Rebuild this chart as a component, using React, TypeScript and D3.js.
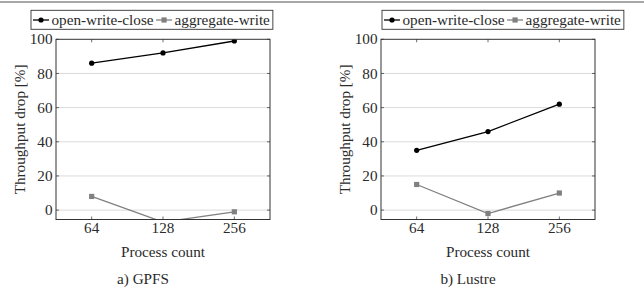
import React, { useEffect, useRef } from 'react';
import * as d3 from 'd3';

const processCounts = ['64', '128', '256'];
const yTicks = [0, 20, 40, 60, 80, 100];

const gpfsOpenWriteClose = [86, 92, 99];
const gpfsAggregateWrite = [8, -7, -1];
const lustreOpenWriteClose = [35, 46, 62];
const lustreAggregateWrite = [15, -2, 10];

const seriesNames = ['open-write-close', 'aggregate-write'];
const seriesColors = ['#000000', '#808080'];

const panels = [
  { id: 'gpfs', caption: 'a) GPFS', owc: gpfsOpenWriteClose, agg: gpfsAggregateWrite, left: 56, legendLeft: 31 },
  { id: 'lustre', caption: 'b) Lustre', owc: lustreOpenWriteClose, agg: lustreAggregateWrite, left: 381, legendLeft: 382 },
];

const FONT = "'Liberation Serif', serif";
const FS = 15.2;

function App() {
  const svgRef = useRef<SVGSVGElement>(null);

  useEffect(() => {
    const svg = d3.select(svgRef.current);
    svg.selectAll('*').remove();

    // top rule
    svg.append('line')
      .attr('x1', 0).attr('x2', 644).attr('y1', 2).attr('y2', 2)
      .attr('stroke', '#8a8a8a').attr('stroke-width', 1.5);

    const plotW = 214;
    const top = 39.3;
    const bottom = 219.5;

    panels.forEach(p => {
      const x = d3.scalePoint().domain(processCounts).range([p.left + plotW / 6, p.left + plotW * 5 / 6]);
      const y = d3.scaleLinear().domain([-5.5, 100]).range([bottom, top]);
      const g = svg.append('g').style('font-family', FONT).style('font-size', FS + 'px').attr('fill', '#2a2a2a');

      // clip
      const clipId = 'clip-' + p.id;
      svg.append('defs').append('clipPath').attr('id', clipId)
        .append('rect').attr('x', p.left).attr('y', top).attr('width', plotW).attr('height', bottom - top);

      // grid
      g.selectAll('.grid').data(yTicks.filter(t => t < 100)).enter().append('line')
        .attr('x1', p.left).attr('x2', p.left + plotW)
        .attr('y1', d => y(d)).attr('y2', d => y(d))
        .attr('stroke', '#d0d0d0').attr('stroke-width', 0.8);

      // ticks inside
      g.selectAll('.yt').data(yTicks).enter().append('path')
        .attr('d', d => `M${p.left},${y(d)}h3M${p.left + plotW},${y(d)}h-3`)
        .attr('stroke', '#444').attr('stroke-width', 0.8);
      g.selectAll('.xt').data(processCounts).enter().append('path')
        .attr('d', d => `M${x(d)},${top}v3M${x(d)},${bottom}v-3`)
        .attr('stroke', '#444').attr('stroke-width', 0.8);

      // series
      const data = [p.owc, p.agg];
      const line = d3.line<number>().x((_, i) => x(processCounts[i]) as number).y(d => y(d));
      const plot = g.append('g').attr('clip-path', `url(#${clipId})`);
      data.forEach((vals, si) => {
        plot.append('path').attr('d', line(vals)).attr('fill', 'none')
          .attr('stroke', seriesColors[si]).attr('stroke-width', 1.3);
        vals.forEach((v, i) => {
          const cx = x(processCounts[i]) as number;
          if (si === 0) {
            plot.append('circle').attr('cx', cx).attr('cy', y(v)).attr('r', 2.6).attr('fill', seriesColors[si]);
          } else {
            plot.append('rect').attr('x', cx - 2.6).attr('y', y(v) - 2.6).attr('width', 5.2).attr('height', 5.2)
              .attr('fill', seriesColors[si]);
          }
        });
      });

      // frame
      g.append('rect').attr('x', p.left).attr('y', top).attr('width', plotW).attr('height', bottom - top)
        .attr('fill', 'none').attr('stroke', '#333').attr('stroke-width', 1);

      // y tick labels
      g.selectAll('.yl').data(yTicks).enter().append('text')
        .attr('x', p.left - 3.5).attr('y', d => y(d)).attr('dy', '0.34em')
        .attr('text-anchor', 'end').text(d => d);

      // x tick labels
      g.selectAll('.xl').data(processCounts).enter().append('text')
        .attr('x', d => x(d) as number).attr('y', 228).attr('dy', '0.34em')
        .attr('text-anchor', 'middle').text(d => d);

      // axis titles
      g.append('text').attr('x', p.left + plotW / 2).attr('y', 252).attr('dy', '0.34em')
        .attr('text-anchor', 'middle').text('Process count');
      g.append('text').attr('transform', `translate(${p.left - 36},${(top + bottom) / 2}) rotate(-90)`)
        .attr('dy', '0.34em').attr('text-anchor', 'middle').text('Throughput drop [%]');

      // caption
      g.append('text').attr('x', p.left + plotW / 2 - 20).attr('y', 279).attr('dy', '0.34em')
        .attr('text-anchor', 'middle').text(p.caption);

      // legend
      const lg = g.append('g');
      const box = lg.append('rect').attr('x', p.legendLeft).attr('y', 10.3).attr('height', 19)
        .attr('fill', 'white').attr('stroke', '#333').attr('stroke-width', 0.9);
      let cur = p.legendLeft + 2;
      seriesNames.forEach((name, si) => {
        lg.append('line').attr('x1', cur).attr('x2', cur + 16).attr('y1', 20).attr('y2', 20)
          .attr('stroke', seriesColors[si]).attr('stroke-width', 1.3);
        if (si === 0) {
          lg.append('circle').attr('cx', cur + 8).attr('cy', 20).attr('r', 2.6).attr('fill', seriesColors[si]);
        } else {
          lg.append('rect').attr('x', cur + 5.4).attr('y', 17.4).attr('width', 5.2).attr('height', 5.2)
            .attr('fill', seriesColors[si]);
        }
        const t = lg.append('text').attr('x', cur + 18.5).attr('y', 20).attr('dy', '0.34em').text(name);
        const w = (t.node() as SVGTextElement).getComputedTextLength();
        cur = cur + 18.5 + w + 2.5;
      });
      box.attr('width', cur - p.legendLeft + 0.5);
    });
  }, []);

  return (
    <svg ref={svgRef} width={644} height={295}
      style={{ position: 'absolute', left: 0, top: 0, background: 'white' }} />
  );
}

export default App;
